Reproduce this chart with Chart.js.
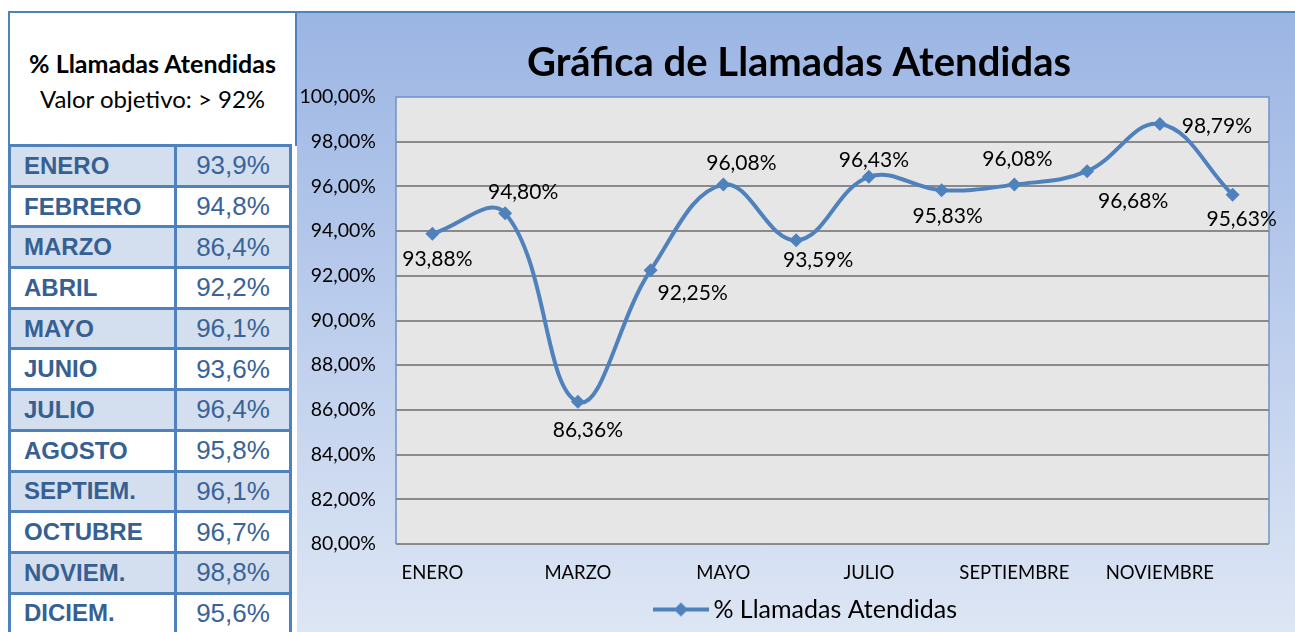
<!DOCTYPE html>
<html>
<head>
<meta charset="utf-8">
<script src="https://cdn.jsdelivr.net/npm/chart.js@4.4.1/dist/chart.umd.min.js"></script>
<style>
  html, body { margin: 0; padding: 0; background: #fff; width: 1295px; height: 632px; overflow: hidden; }
  #head {
    position: absolute; left: 8px; top: 11px; width: 285px; height: 133px;
    border: 2px solid #4f81bd; border-bottom: none; background: #fff;
    font-family: Lato, sans-serif; color: #000; text-align: center;
  }
  #head .t1 { position: absolute; left: 0; right: 0; top: 35px; font-weight: bold; font-size: 25px; line-height: 30px; }
  #head .t2 { position: absolute; left: 0; right: 0; top: 71px; font-size: 24px; line-height: 29px; }
  #months {
    position: absolute; left: 8px; top: 144px; border-collapse: collapse;
    width: 281px; table-layout: fixed;
  }
  #months td {
    border: 3px solid #4f81bd; height: 37.7px; padding: 0; color: #366092;
    font-family: "Liberation Sans", Arial, sans-serif;
  }
  #months td.m { font-weight: bold; font-size: 24px; padding-left: 13px; }
  #months td.v { font-size: 26px; text-align: center; color: #3a6399; }
  #months tr:nth-child(odd) td { background: #d3dfee; }
  #wrap {
    position: absolute; left: 297px; top: 11px; width: 998px; height: 619px;
    border-top: 2px solid #4f81bd;
    background: linear-gradient(to bottom, #9bb5e3 0%, #b9cbec 45%, #dde6f4 100%);
  }
  #chart { display: block; }
</style>
</head>
<body>
<div id="head">
  <div class="t1">% Llamadas Atendidas</div>
  <div class="t2">Valor objetivo: &gt; 92%</div>
</div>
<table id="months">
  <colgroup><col style="width:166px"><col style="width:115px"></colgroup>
  <tbody id="rows"></tbody>
</table>
<div id="wrap"><canvas id="chart" width="998" height="619"></canvas></div>

<script>
const MONTHS = ['ENERO', 'FEBRERO', 'MARZO', 'ABRIL', 'MAYO', 'JUNIO', 'JULIO', 'AGOSTO', 'SEPTIEMBRE', 'OCTUBRE', 'NOVIEMBRE', 'DICIEMBRE'];
const TABLE_MONTHS = ['ENERO', 'FEBRERO', 'MARZO', 'ABRIL', 'MAYO', 'JUNIO', 'JULIO', 'AGOSTO', 'SEPTIEM.', 'OCTUBRE', 'NOVIEM.', 'DICIEM.'];
const ATTENDED = [93.88, 94.80, 86.36, 92.25, 96.08, 93.59, 96.43, 95.83, 96.08, 96.68, 98.79, 95.63];
const TABLE_VALUES = [93.9, 94.8, 86.4, 92.2, 96.1, 93.6, 96.4, 95.8, 96.1, 96.7, 98.8, 95.6];
const Y_MIN = 80;
const Y_MAX = 100;
const Y_STEP = 2;

// where each value label sits relative to its point (dx, dy)
const LABEL_OFFSETS = [[5, 25], [18, -21], [10, 28], [42, 23], [18, -21], [22, 20], [5, -17], [6, 26], [3, -25], [46, 30], [57, 2], [9, 25]];

const BLUE = '#4f81bd';
const fmt = (v, d) => v.toFixed(d).replace('.', ',') + '%';

// left table
const tbody = document.getElementById('rows');
TABLE_MONTHS.forEach((m, i) => {
  const tr = document.createElement('tr');
  tr.innerHTML = `<td class="m">${m}</td><td class="v">${fmt(TABLE_VALUES[i], 1)}</td>`;
  tbody.appendChild(tr);
});

// legend icon: line with a diamond on it
const legendIcon = document.createElement('canvas');
legendIcon.width = 56;
legendIcon.height = 16;
(() => {
  const c = legendIcon.getContext('2d');
  c.strokeStyle = BLUE;
  c.lineWidth = 4;
  c.beginPath(); c.moveTo(0, 8); c.lineTo(56, 8); c.stroke();
  c.fillStyle = BLUE;
  c.beginPath(); c.moveTo(28 - 7, 8); c.lineTo(28, 1); c.lineTo(35, 8); c.lineTo(28, 15); c.closePath(); c.fill();
})();

const plotArea = {
  id: 'plotArea',
  beforeDraw(chart) {
    const { ctx, chartArea: a } = chart;
    ctx.save();
    ctx.fillStyle = '#e6e6e6';
    ctx.fillRect(a.left, a.top, a.right - a.left, a.bottom - a.top);
    ctx.strokeStyle = '#6f93c9';
    ctx.lineWidth = 1.5;
    ctx.beginPath();
    ctx.moveTo(a.left, a.bottom); ctx.lineTo(a.left, a.top);
    ctx.lineTo(a.right, a.top); ctx.lineTo(a.right, a.bottom);
    ctx.stroke();
    ctx.restore();
  },
  // nudge title and legend to where the original sits
  afterLayout(chart) {
    chart.titleBlock.left += 16;
    chart.titleBlock.right += 16;
    chart.legend.left += 26;
    chart.legend.right += 26;
  }
};

const valueLabels = {
  id: 'valueLabels',
  afterDatasetsDraw(chart) {
    const { ctx } = chart;
    const meta = chart.getDatasetMeta(0);
    ctx.save();
    ctx.font = '21px Lato, sans-serif';
    ctx.fillStyle = '#000';
    ctx.textAlign = 'center';
    ctx.textBaseline = 'middle';
    meta.data.forEach((pt, i) => {
      const [dx, dy] = LABEL_OFFSETS[i];
      ctx.fillText(fmt(ATTENDED[i], 2), pt.x + dx, pt.y + dy);
    });
    ctx.restore();
  }
};

new Chart(document.getElementById('chart'), {
  type: 'line',
  data: {
    labels: MONTHS,
    datasets: [{
      label: '% Llamadas Atendidas',
      data: ATTENDED,
      borderColor: BLUE,
      backgroundColor: BLUE,
      borderWidth: 4,
      tension: 0.4,
      pointStyle: 'rectRot',
      pointRadius: 7,
      pointBackgroundColor: BLUE,
      pointBorderWidth: 0
    }]
  },
  options: {
    responsive: false,
    animation: false,
    events: [],
    layout: { padding: { left: 0, right: 26, top: 0, bottom: 0 } },
    scales: {
      x: {
        offset: true,
        grid: { display: false, drawTicks: false },
        border: { display: false },
        ticks: {
          autoSkip: false, maxRotation: 0, padding: 18, color: '#000',
          font: { family: 'Lato', size: 18.5 },
          callback: (v, i) => (i % 2 === 0 ? MONTHS[i] : '')
        },
        afterFit: s => { s.height = 43; }
      },
      y: {
        min: Y_MIN,
        max: Y_MAX,
        grid: {
          drawTicks: false,
          lineWidth: 2,
          color: c => (c.tick && c.tick.value === Y_MAX ? 'rgba(0,0,0,0)' : '#8a8a8a')
        },
        border: { display: false },
        ticks: {
          stepSize: Y_STEP, padding: 20, color: '#000',
          font: { family: 'Lato', size: 19.5 },
          callback: v => fmt(v, 2)
        },
        afterFit: s => { s.width = 99; }
      }
    },
    plugins: {
      title: {
        display: true,
        text: 'Gráfica de Llamadas Atendidas',
        color: '#000',
        font: { family: 'Lato', size: 40, weight: 'bold' },
        padding: { top: 26, bottom: 10 }
      },
      legend: {
        position: 'bottom',
        labels: {
          usePointStyle: true,
          pointStyleWidth: 40,
          color: '#000',
          font: { family: 'Lato', size: 25 },
          generateLabels: chart => Chart.defaults.plugins.legend.labels.generateLabels(chart)
            .map(l => Object.assign(l, { pointStyle: legendIcon }))
        }
      },
      tooltip: { enabled: false }
    }
  },
  plugins: [plotArea, valueLabels]
});
</script>
</body>
</html>
